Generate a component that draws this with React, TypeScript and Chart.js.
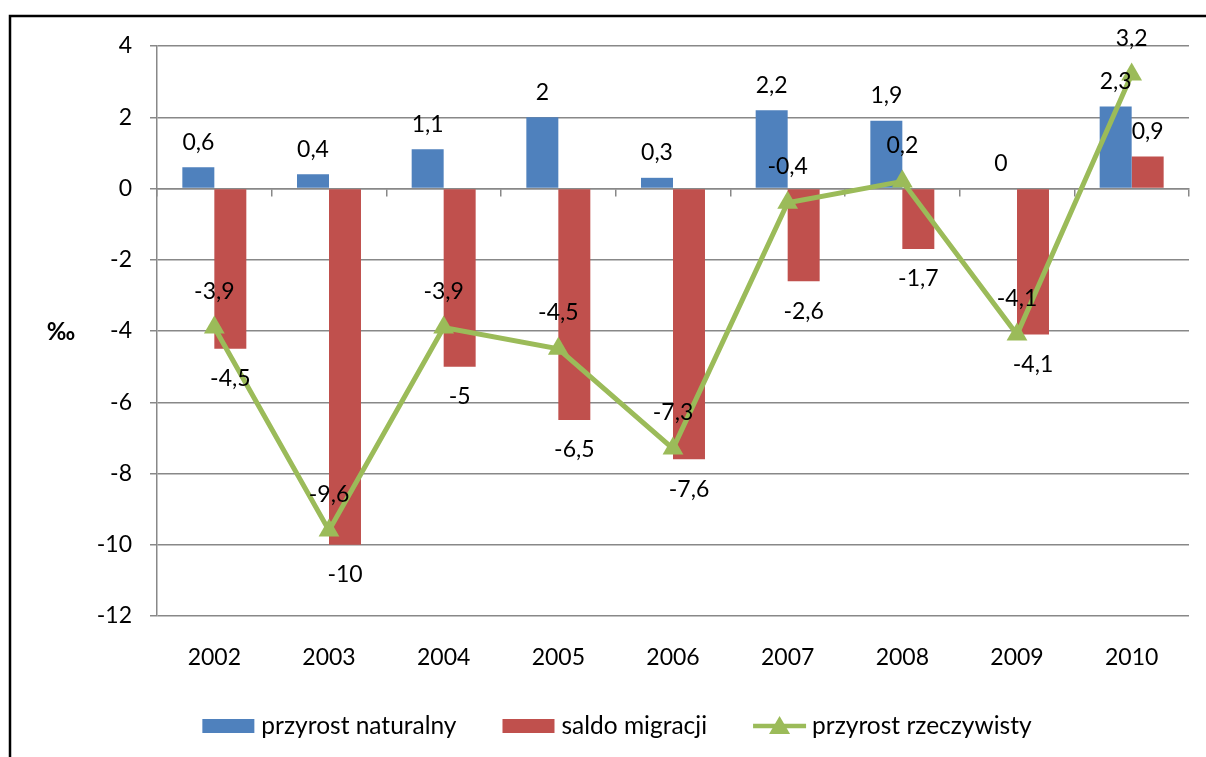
import { useEffect, useRef } from 'react';
import { Chart, registerables } from 'chart.js';

Chart.register(...registerables);

const years = ['2002', '2003', '2004', '2005', '2006', '2007', '2008', '2009', '2010'];
const naturalGrowth = [0.6, 0.4, 1.1, 2, 0.3, 2.2, 1.9, 0, 2.3];
const netMigration = [-4.5, -10, -5, -6.5, -7.6, -2.6, -1.7, -4.1, 0.9];
const realGrowth = [-3.9, -9.6, -3.9, -4.5, -7.3, -0.4, 0.2, -4.1, 3.2];
const seriesNames = ['przyrost naturalny', 'saldo migracji', 'przyrost rzeczywisty'];
const yMin = -12;
const yMax = 4;
const yStep = 2;
const unitLabel = '‰';

const BLUE = '#4F81BD';
const RED = '#C0504D';
const GREEN = '#9BBB59';
const GRID = '#888888';
const FONT = 'Lato, "Open Sans", sans-serif';

const fmt = (v: number) => String(v).replace('.', ',');

const framePlugin = {
  id: 'frame',
  beforeDraw(chart: any) {
    const ctx = chart.ctx;
    ctx.save();
    ctx.strokeStyle = '#000';
    ctx.lineWidth = 2.5;
    ctx.strokeRect(10, 16, 1400, 1000);
    ctx.restore();
  },
};

const labelsPlugin = {
  id: 'valueLabels',
  afterDatasetsDraw(chart: any) {
    const ctx = chart.ctx;
    ctx.save();
    ctx.font = `23px ${FONT}`;
    ctx.fillStyle = '#000';
    ctx.textAlign = 'center';
    ctx.textBaseline = 'middle';
    chart.data.datasets.forEach((ds: any, i: number) => {
      const meta = chart.getDatasetMeta(i);
      meta.data.forEach((el: any, j: number) => {
        const v = ds.data[j] as number;
        let y: number;
        if (ds.type === 'line') y = el.y - 36;
        else y = v >= 0 ? el.y - 25 : el.y + 30;
        ctx.fillText(fmt(v), el.x, y);
      });
    });
    const a = chart.chartArea;
    ctx.font = `bold 24px ${FONT}`;
    ctx.fillText(unitLabel, 61, (a.top + a.bottom) / 2 + 1);
    ctx.restore();
  },
};

// legend drawn below the x axis labels
const legendPlugin = {
  id: 'customLegend',
  afterDraw(chart: any) {
    const ctx = chart.ctx;
    const items = [
      { kind: 'rect', color: BLUE, text: seriesNames[0] },
      { kind: 'rect', color: RED, text: seriesNames[1] },
      { kind: 'line', color: GREEN, text: seriesNames[2] },
    ];
    const symW = 53;
    const symGap = 6;
    const itemGap = 46;
    ctx.save();
    ctx.font = `24.5px ${FONT}`;
    ctx.textBaseline = 'middle';
    ctx.textAlign = 'left';
    const widths = items.map((it) => symW + symGap + ctx.measureText(it.text).width);
    const total = widths.reduce((s, w) => s + w, 0) + itemGap * (items.length - 1);
    const cx = 617;
    const cy = chart.height - 31;
    let x = cx - total / 2;
    items.forEach((it, i) => {
      ctx.fillStyle = it.color;
      if (it.kind === 'rect') {
        ctx.fillRect(x, cy - 7, 52, 14);
      } else {
        ctx.strokeStyle = it.color;
        ctx.lineWidth = 4.5;
        ctx.beginPath();
        ctx.moveTo(x, cy);
        ctx.lineTo(x + symW, cy);
        ctx.stroke();
        const mx = x + symW / 2;
        ctx.beginPath();
        ctx.moveTo(mx, cy - 10);
        ctx.lineTo(mx + 10.5, cy + 8);
        ctx.lineTo(mx - 10.5, cy + 8);
        ctx.closePath();
        ctx.fill();
      }
      ctx.fillStyle = '#000';
      ctx.fillText(it.text, x + symW + symGap, cy);
      x += widths[i] + itemGap;
    });
    ctx.restore();
  },
};

export default function App() {
  const ref = useRef<HTMLCanvasElement>(null);

  useEffect(() => {
    document.body.style.margin = '0';
    const chart = new Chart(ref.current!, {
      type: 'bar',
      data: {
        labels: years,
        datasets: [
          {
            type: 'line',
            label: seriesNames[2],
            data: realGrowth,
            borderColor: GREEN,
            backgroundColor: GREEN,
            borderWidth: 5,
            pointStyle: 'triangle',
            pointRadius: 12,
            pointBorderWidth: 0,
            pointBackgroundColor: GREEN,
            tension: 0,
            order: 1,
            xAxisID: 'x',
          } as any,
          {
            type: 'bar',
            label: seriesNames[0],
            data: naturalGrowth,
            backgroundColor: BLUE,
            categoryPercentage: 0.558,
            barPercentage: 1,
            order: 2,
            xAxisID: 'x',
          },
          {
            type: 'bar',
            label: seriesNames[1],
            data: netMigration,
            backgroundColor: RED,
            categoryPercentage: 0.558,
            barPercentage: 1,
            order: 2,
            xAxisID: 'x',
          },
        ],
      },
      options: {
        animation: false,
        responsive: false,
        layout: { padding: { top: 46, right: 17, left: 46, bottom: 85 } },
        scales: {
          x: {
            offset: true,
            grid: { display: false, drawTicks: false },
            border: { display: false },
            ticks: { color: '#000', font: { family: FONT, size: 23 }, padding: 28 },
            afterFit(s: any) {
              s.height = 56;
            },
          },
          x2: {
            type: 'category',
            axis: 'x',
            position: { y: 0 },
            offset: true,
            grid: {
              offset: true,
              drawOnChartArea: false,
              drawTicks: true,
              tickLength: 7,
              color: GRID,
              lineWidth: 1.5,
            },
            border: { display: true, color: GRID, width: 1.5 },
            ticks: { display: false },
          } as any,
          y: {
            min: yMin,
            max: yMax,
            ticks: {
              stepSize: yStep,
              color: '#000',
              font: { family: FONT, size: 23 },
              padding: 18,
            },
            grid: { color: GRID, lineWidth: 1.5, tickLength: 7 },
            border: { color: GRID, width: 1.5 },
            afterFit(s: any) {
              s.width = 111;
            },
          },
        },
        plugins: {
          tooltip: { enabled: false },
          legend: { display: false },
        },
      },
      plugins: [framePlugin, labelsPlugin, legendPlugin],
    });
    return () => chart.destroy();
  }, []);

  return (
    <canvas
      ref={ref}
      width={1206}
      height={757}
      style={{ display: 'block', position: 'fixed', left: 0, top: 0 }}
    />
  );
}
